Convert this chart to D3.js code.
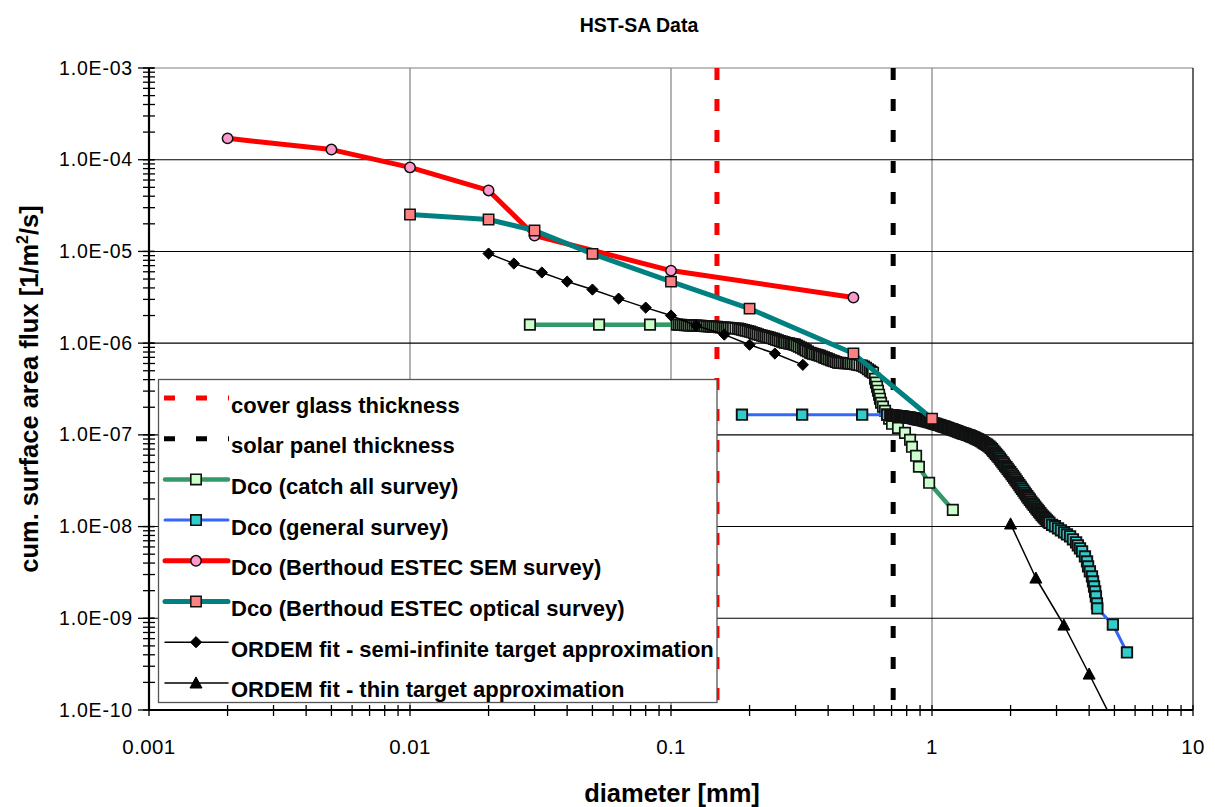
<!DOCTYPE html>
<html><head><meta charset="utf-8">
<script src="https://cdn.jsdelivr.net/npm/d3@7"></script>
<style>body{margin:0;background:#fff}</style></head>
<body><svg id="c" width="1215" height="807"></svg>
<script>
// ---- data ----
const coverGlass = 0.15;
const solarPanel = 0.71;

const catchD = [0.0288,0.053,0.0831,
 0.1054,0.1092,0.1132,0.1172,0.1214,0.1259,0.1303,0.1349,0.1400,0.1449,
 0.1500,0.1556,0.1611,0.1667,0.1730,0.1807,0.1871,0.1936,0.2009,0.2080,
 0.2153,0.2234,0.2312,0.2393,0.2483,0.2570,0.2661,0.2735,0.2831,0.2911,
 0.2985,0.3090,0.3206,0.3289,0.3412,0.3499,0.3622,0.3724,0.3855,0.3963,
 0.4102,0.4217,0.4365,0.4519,0.4677,0.4808,0.4977,0.5164,0.5395,0.5585,
 0.5781,0.5943,
 0.605,0.610,0.616,0.621,0.627,0.632,0.638,0.649,0.661,0.673,0.685,
 0.703,0.741,0.788,0.824,0.838,0.869,0.891,0.975,1.202,
 0.1073,0.1112,0.1152,0.1193,0.1236,0.1281,0.1326,0.1374,0.1424,0.1474,
 0.1528,0.1583,0.1639,0.1698,0.1768,0.1839,0.1903,0.1972,0.2044,0.2116,
 0.2193,0.2273,0.2352,0.2438,0.2526,0.2615,0.2698,0.2783,0.2871,0.2948,
 0.3037,0.3148,0.3247,0.3350,0.3455,0.3560,0.3673,0.3789,0.3909,0.4032,
 0.4159,0.4290,0.4441,0.4597,0.4742,0.4892,0.5070,0.5278,0.5489,0.5682,0.5862];
const catchF = [1.59e-6,1.59e-6,1.59e-6,
 1.592e-6,1.585e-6,1.572e-6,1.564e-6,1.560e-6,1.552e-6,1.545e-6,1.534e-6,1.524e-6,1.514e-6,
 1.503e-6,1.486e-6,1.476e-6,1.466e-6,1.455e-6,1.439e-6,1.403e-6,1.368e-6,1.336e-6,1.291e-6,
 1.247e-6,1.208e-6,1.178e-6,1.148e-6,1.112e-6,1.074e-6,1.038e-6,1.012e-6,9.93e-7,9.77e-7,
 9.64e-7,9.16e-7,8.71e-7,8.34e-7,7.87e-7,7.67e-7,7.48e-7,7.29e-7,7.00e-7,6.78e-7,
 6.52e-7,6.35e-7,6.12e-7,6.08e-7,6.05e-7,6.02e-7,5.97e-7,5.82e-7,5.68e-7,5.40e-7,
 5.01e-7,4.76e-7,
 4.09e-7,3.71e-7,3.35e-7,3.03e-7,2.74e-7,2.48e-7,2.24e-7,2.03e-7,1.83e-7,1.66e-7,1.50e-7,
 1.32e-7,1.19e-7,1.05e-7,8.83e-8,7.41e-8,5.91e-8,4.49e-8,3.00e-8,1.52e-8,
 1.588e-6,1.578e-6,1.568e-6,1.562e-6,1.556e-6,1.548e-6,1.540e-6,1.529e-6,1.519e-6,1.508e-6,
 1.494e-6,1.481e-6,1.471e-6,1.460e-6,1.447e-6,1.421e-6,1.385e-6,1.352e-6,1.313e-6,1.269e-6,
 1.227e-6,1.193e-6,1.163e-6,1.130e-6,1.093e-6,1.056e-6,1.025e-6,1.002e-6,9.85e-7,9.70e-7,
 9.40e-7,8.93e-7,8.52e-7,8.10e-7,7.77e-7,7.57e-7,7.38e-7,7.14e-7,6.89e-7,6.65e-7,
 6.43e-7,6.23e-7,6.10e-7,6.06e-7,6.03e-7,5.99e-7,5.89e-7,5.75e-7,5.54e-7,5.20e-7,4.88e-7];

const genD = [0.187,0.318,0.540,0.673,
 0.692,0.708,0.724,0.741,0.759,0.776,0.794,0.813,0.832,0.851,
 0.871,0.891,0.912,0.933,0.955,0.977,1.0,1.023,1.047,1.072,
 1.096,1.122,1.148,1.175,1.202,1.230,1.259,1.288,1.318,1.349,
 1.380,1.413,1.445,1.479,1.514,1.549,1.585,1.622,1.660,1.698,
 1.738,1.778,1.820,1.862,1.905,1.950,1.995,2.042,2.089,2.138,
 2.188,2.239,2.291,2.344,2.399,2.455,2.512,2.570,2.630,2.692,
 2.754,2.818,
 2.884,2.958,3.040,3.119,3.206,3.289,3.381,3.467,3.565,3.622,3.690,3.758,
 3.855,3.926,3.963,4.027,4.102,4.140,4.178,4.217,4.246,4.285,4.30,4.932,5.585,
 0.700,0.716,0.733,0.750,0.768,0.785,0.804,0.823,0.842,0.861,
 0.881,0.902,0.923,0.944,0.966,0.989,1.012,1.035,1.059,1.084,
 1.109,1.135,1.161,1.189,1.216,1.245,1.274,1.303,1.334,1.365,
 1.396,1.429,1.462,1.496,1.531,1.567,1.603,1.641,1.679,1.718,
 1.758,1.799,1.841,1.884,1.928,1.972,2.018,2.065,2.113,2.163,
 2.213,2.265,2.317,2.371,2.427,2.483,2.541,2.600,2.661,2.723,2.786];
const genF = [1.66e-7,1.66e-7,1.66e-7,1.66e-7,
 1.641e-7,1.629e-7,1.618e-7,1.603e-7,1.592e-7,1.578e-7,1.563e-7,1.549e-7,1.531e-7,1.510e-7,
 1.489e-7,1.469e-7,1.449e-7,1.426e-7,1.403e-7,1.380e-7,1.352e-7,1.327e-7,1.300e-7,1.276e-7,
 1.247e-7,1.219e-7,1.191e-7,1.164e-7,1.138e-7,1.112e-7,1.084e-7,1.059e-7,1.035e-7,1.012e-7,
 9.91e-8,9.66e-8,9.38e-8,9.10e-8,8.83e-8,8.49e-8,8.13e-8,7.80e-8,7.46e-8,6.97e-8,
 6.44e-8,5.97e-8,5.52e-8,5.05e-8,4.63e-8,4.25e-8,3.92e-8,3.57e-8,3.26e-8,2.97e-8,
 2.70e-8,2.47e-8,2.24e-8,2.05e-8,1.87e-8,1.72e-8,1.58e-8,1.46e-8,1.34e-8,1.25e-8,
 1.17e-8,1.10e-8,
 1.045e-8,1.008e-8,9.57e-9,9.10e-9,8.65e-9,8.22e-9,7.83e-9,7.26e-9,6.73e-9,6.24e-9,5.79e-9,5.37e-9,
 4.73e-9,4.17e-9,3.68e-9,3.24e-9,2.86e-9,2.52e-9,2.22e-9,1.96e-9,1.73e-9,1.45e-9,1.28e-9,8.55e-10,4.24e-10,
 1.635e-7,1.623e-7,1.610e-7,1.597e-7,1.585e-7,1.570e-7,1.556e-7,1.540e-7,1.520e-7,1.499e-7,
 1.479e-7,1.459e-7,1.437e-7,1.414e-7,1.391e-7,1.366e-7,1.339e-7,1.313e-7,1.288e-7,1.261e-7,
 1.233e-7,1.205e-7,1.177e-7,1.151e-7,1.125e-7,1.098e-7,1.071e-7,1.047e-7,1.023e-7,1.001e-7,
 9.78e-8,9.52e-8,9.24e-8,8.96e-8,8.66e-8,8.31e-8,7.96e-8,7.63e-8,7.21e-8,6.70e-8,
 6.20e-8,5.74e-8,5.28e-8,4.84e-8,4.44e-8,4.08e-8,3.74e-8,3.41e-8,3.11e-8,2.83e-8,
 2.58e-8,2.35e-8,2.14e-8,1.96e-8,1.79e-8,1.65e-8,1.52e-8,1.40e-8,1.29e-8,1.21e-8,1.13e-8];

const semD = [0.002,0.005,0.01,0.02,0.03,0.1,0.5];
const semF = [1.71e-4,1.29e-4,8.24e-5,4.62e-5,1.49e-5,6.18e-6,3.14e-6];

const optD = [0.01,0.02,0.03,0.05,0.1,0.2,0.5,1];
const optF = [2.53e-5,2.23e-5,1.69e-5,9.4e-6,4.69e-6,2.38e-6,7.7e-7,1.5e-7];

const semiD = [0.02,0.025,0.032,0.04,0.05,0.063,0.08,0.1,0.125,0.16,0.2,0.25,0.32];
const semiF = [9.48e-6,7.38e-6,5.89e-6,4.69e-6,3.84e-6,3.06e-6,2.44e-6,2.0e-6,1.55e-6,1.24e-6,9.6e-7,7.7e-7,5.8e-7];

const thinD = [2,2.5,3.2,4,5];
const thinF = [1.07e-8,2.75e-9,8.45e-10,2.47e-10,7.0e-11];

const xTickValues = [0.001,0.01,0.1,1,10];
const xTickLabels = ["0.001","0.01","0.1","1","10"];
const yTickValues = [1e-10,1e-9,1e-8,1e-7,1e-6,1e-5,1e-4,1e-3];
const yTickLabels = ["1.0E-10","1.0E-09","1.0E-08","1.0E-07","1.0E-06","1.0E-05","1.0E-04","1.0E-03"];

const legendLabels = ["cover glass thickness","solar panel thickness","Dco (catch all survey)",
 "Dco (general survey)","Dco (Berthoud ESTEC SEM survey)","Dco (Berthoud ESTEC optical survey)",
 "ORDEM fit - semi-infinite target approximation","ORDEM fit - thin target approximation"];

// ---- drawing ----
const FONT = "'Liberation Sans', Arial, Helvetica, sans-serif";
const svg = d3.select('#c');
const L = 149, R = 1193, T = 68, B = 710;
const x = d3.scaleLog().domain([0.001,10]).range([L,R]);
const y = d3.scaleLog().domain([1e-10,1e-3]).range([B,T]);

svg.append('rect').attr('width',1215).attr('height',807).attr('fill','#fff');

// grid
const g = svg.append('g');
g.selectAll('.vg').data([0.01,0.1,1]).join('line')
 .attr('x1',d=>x(d)).attr('x2',d=>x(d)).attr('y1',T).attr('y2',B)
 .attr('stroke','#808080').attr('stroke-width',1.2);
g.selectAll('.hg').data(yTickValues.slice(1)).join('line')
 .attr('x1',L).attr('x2',R).attr('y1',d=>y(d)).attr('y2',d=>y(d))
 .attr('stroke',d=>d===1e-3?'#808080':'#000').attr('stroke-width',1.1);
g.append('line').attr('x1',R).attr('x2',R).attr('y1',T).attr('y2',B).attr('stroke','#000').attr('stroke-width',1.2);

svg.append('clipPath').attr('id','pa').append('rect')
 .attr('x',L).attr('y',T).attr('width',R-L).attr('height',B-T);
const plot = svg.append('g').attr('clip-path','url(#pa)');

// vertical dashed lines
function vline(v,color){
  plot.append('line').attr('x1',x(v)).attr('x2',x(v)).attr('y1',T).attr('y2',B)
   .attr('stroke',color).attr('stroke-width',5).attr('stroke-dasharray','12,19');
}
vline(coverGlass,'#ff0000');
vline(solarPanel,'#000000');

const zip = (a,b)=>a.map((d,i)=>[d,b[i]]).sort((p,q)=>p[0]-q[0]);
const line = d3.line().x(d=>x(d[0])).y(d=>y(d[1]));

const sq = s=>`M${-s},${-s}H${s}V${s}H${-s}Z`;
const circ = r=>`M${r},0A${r},${r} 0 1,1 ${-r},0A${r},${r} 0 1,1 ${r},0Z`;
const diam = s=>`M0,${-s}L${s},0L0,${s}L${-s},0Z`;
const tri = s=>`M0,${-s}L${s},${s*0.85}L${-s},${s*0.85}Z`;

const series = [
 {d:zip(catchD,catchF), lc:'#339966', lw:4.5, m:sq(5.2), mf:'#ccffcc', ms:'#111', msw:1.7},
 {d:zip(genD,genF), lc:'#3366ff', lw:3, m:sq(5.2), mf:'#33cccc', ms:'#111', msw:1.9},
 {d:zip(semD,semF), lc:'#ff0000', lw:5, m:circ(5.2), mf:'#ff99cc', ms:'#111', msw:1.5},
 {d:zip(optD,optF), lc:'#008080', lw:5, m:sq(5.2), mf:'#ff8080', ms:'#111', msw:1.5},
 {d:zip(semiD,semiF), lc:'#000', lw:1.5, m:diam(5.6), mf:'#000', ms:'#000', msw:1},
 {d:zip(thinD,thinF), lc:'#000', lw:1.5, m:tri(6), mf:'#000', ms:'#000', msw:1}
];

series.forEach(s=>{
  const sg = plot.append('g');
  sg.append('path').attr('d',line(s.d)).attr('fill','none').attr('stroke',s.lc)
   .attr('stroke-width',s.lw).attr('stroke-linejoin','round');
  sg.selectAll('path.m').data(s.d).join('path').attr('class','m')
   .attr('transform',d=>`translate(${x(d[0])},${y(d[1])})`)
   .attr('d',s.m).attr('fill',s.mf).attr('stroke',s.ms).attr('stroke-width',s.msw);
});

// axes lines
svg.append('line').attr('x1',L).attr('x2',L).attr('y1',T).attr('y2',B+1).attr('stroke','#000').attr('stroke-width',2.2);
svg.append('line').attr('x1',L-1).attr('x2',R).attr('y1',B).attr('y2',B).attr('stroke','#000').attr('stroke-width',2.2);

// ticks
const yMinor = [];
for(let e=-10;e<-3;e++){ for(let k=1;k<10;k++){ yMinor.push(k*Math.pow(10,e)); } }
yMinor.push(1e-3);
svg.selectAll('.yt').data(yMinor).join('line')
 .attr('x1',L-6).attr('x2',L+6).attr('y1',d=>y(d)).attr('y2',d=>y(d))
 .attr('stroke','#000').attr('stroke-width',1.3);
svg.selectAll('.ytM').data(yTickValues).join('line')
 .attr('x1',L-11).attr('x2',L+5).attr('y1',d=>y(d)).attr('y2',d=>y(d))
 .attr('stroke','#000').attr('stroke-width',1.3);
const xMinor = [];
for(let e=-3;e<1;e++){ for(let k=1;k<10;k++){ xMinor.push(k*Math.pow(10,e)); } }
xMinor.push(10);
svg.selectAll('.xt').data(xMinor).join('line')
 .attr('x1',d=>x(d)).attr('x2',d=>x(d)).attr('y1',B-5).attr('y2',B+6)
 .attr('stroke','#000').attr('stroke-width',1.3);

// tick labels
svg.selectAll('.yl').data(yTickValues).join('text')
 .attr('x',133).attr('y',d=>y(d)+6.5).attr('text-anchor','end')
 .attr('font-family',FONT).attr('font-size',19.5).attr('letter-spacing',0.8).attr('fill','#000')
 .text((d,i)=>yTickLabels[i]);
svg.selectAll('.xl').data(xTickValues).join('text')
 .attr('x',d=>x(d)).attr('y',754).attr('text-anchor','middle')
 .attr('font-family',FONT).attr('font-size',20.5).attr('letter-spacing',0.4).attr('fill','#000')
 .text((d,i)=>xTickLabels[i]);

// titles
svg.append('text').attr('x',639).attr('y',32).attr('text-anchor','middle')
 .attr('font-family',FONT).attr('font-size',19.5).attr('font-weight','bold').text('HST-SA Data');
svg.append('text').attr('x',672).attr('y',802).attr('text-anchor','middle')
 .attr('font-family',FONT).attr('font-size',25.5).attr('font-weight','bold').text('diameter [mm]');
const yt = svg.append('text').attr('transform','translate(38,389) rotate(-90)').attr('text-anchor','middle')
 .attr('font-family',FONT).attr('font-size',25.5).attr('font-weight','bold');
yt.append('tspan').text('cum. surface area flux [1/m');
yt.append('tspan').attr('font-size',16).attr('dy',-10).text('2');
yt.append('tspan').attr('dy',10).text('/s]');

// legend
const lg = svg.append('g');
lg.append('rect').attr('x',158.5).attr('y',379.5).attr('width',558.5).attr('height',323)
 .attr('fill','#fff').attr('stroke','#555').attr('stroke-width',1.3);
const legendStyles = [
 {type:'dash', c:'#ff0000'},
 {type:'dash', c:'#000000'},
 {type:'s', si:0},{type:'s', si:1},{type:'s', si:2},{type:'s', si:3},{type:'s', si:4},{type:'s', si:5}
];
legendLabels.forEach((lab,i)=>{
  const cy = 398 + i*40.7;
  const st = legendStyles[i];
  if(st.type==='dash'){
    lg.append('line').attr('x1',164).attr('x2',229).attr('y1',cy).attr('y2',cy)
     .attr('stroke',st.c).attr('stroke-width',5).attr('stroke-dasharray','11,21');
  } else {
    const s = series[st.si];
    lg.append('line').attr('x1',165).attr('x2',228).attr('y1',cy).attr('y2',cy)
     .attr('stroke',s.lc).attr('stroke-width',s.lw).attr('stroke-linecap','round');
    lg.append('path').attr('transform',`translate(196,${cy})`).attr('d',s.m)
     .attr('fill',s.mf).attr('stroke',s.ms).attr('stroke-width',Math.min(s.msw,1.6));
  }
  lg.append('text').attr('x',231).attr('y',cy+14.5).attr('font-family',FONT)
   .attr('font-size',22).attr('font-weight','bold').text(lab);
});
</script></body></html>
